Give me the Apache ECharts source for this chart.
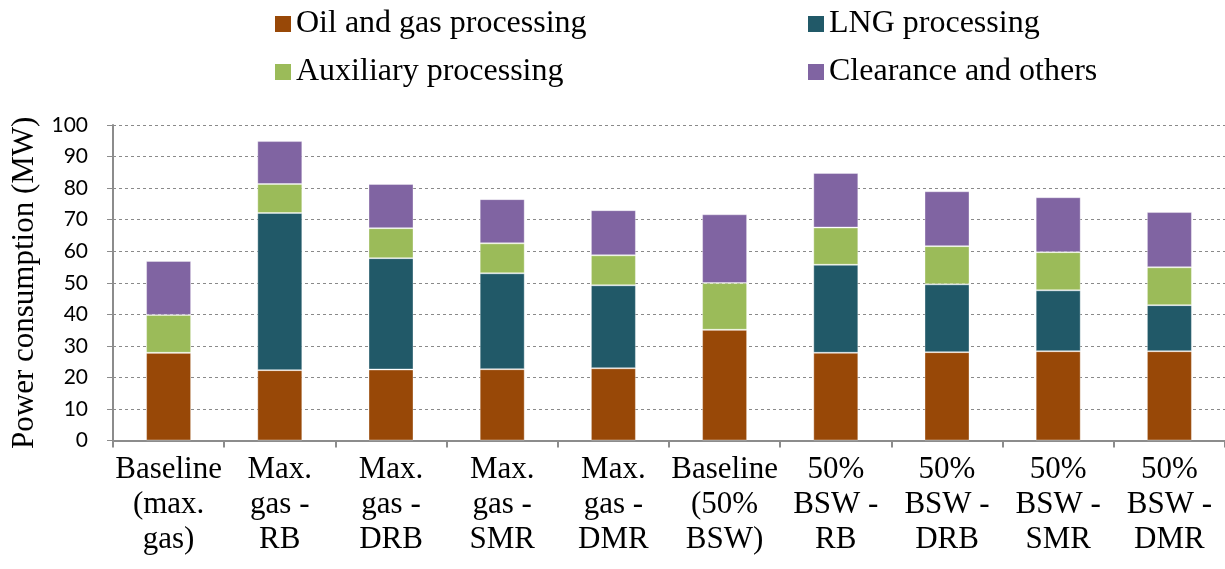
<!DOCTYPE html>
<html>
<head>
<meta charset="utf-8">
<script src="https://cdn.jsdelivr.net/npm/echarts@6/dist/echarts.min.js"></script>
<style>
  html, body { margin: 0; padding: 0; background: #fff; }
  #chart { width: 1225px; height: 569px; }
</style>
</head>
<body>
<div id="chart"></div>
<script>
// Scenario labels along the x axis
const categories = [
  'Baseline\n(max.\ngas)', 'Max.\ngas -\nRB', 'Max.\ngas -\nDRB', 'Max.\ngas -\nSMR', 'Max.\ngas -\nDMR',
  'Baseline\n(50%\nBSW)', '50%\nBSW -\nRB', '50%\nBSW -\nDRB', '50%\nBSW -\nSMR', '50%\nBSW -\nDMR'
];

// Power consumption by block (MW)
const oilGas    = [27.8, 22.3, 22.5, 22.6, 22.9, 35.1, 27.8, 28.0, 28.3, 28.3];
const lng       = [0,    49.8, 35.3, 30.4, 26.3, 0,    27.9, 21.5, 19.3, 14.6];
const auxiliary = [12.0, 9.2,  9.5,  9.5,  9.5,  14.8, 11.8, 12.1, 12.1, 12.0];
const clearance = [17.1, 13.6, 14.0, 14.0, 14.3, 21.8, 17.3, 17.4, 17.4, 17.5];

const seriesNames = ['Oil and gas processing', 'LNG processing', 'Auxiliary processing', 'Clearance and others'];
const seriesColors = ['#984807', '#215968', '#9BBB59', '#8064A2'];
const seriesData = [oilGas, lng, auxiliary, clearance];

const serif = '"Liberation Serif", "Times New Roman", serif';

const chart = echarts.init(document.getElementById('chart'));

const legendText = { fontFamily: serif, fontSize: 32, color: '#000' };

chart.setOption({
  animation: false,
  grid: { left: 113, right: 0, top: 125, bottom: 128.5, containLabel: false },
  legend: [
    {
      data: [seriesNames[0], seriesNames[2]],
      orient: 'vertical', left: 270, top: 3, itemGap: 16,
      itemWidth: 16, itemHeight: 16, itemStyle: { borderWidth: 0 }, icon: 'rect', textStyle: legendText
    },
    {
      data: [seriesNames[1], seriesNames[3]],
      orient: 'vertical', left: 803, top: 3, itemGap: 16,
      itemWidth: 16, itemHeight: 16, itemStyle: { borderWidth: 0 }, icon: 'rect', textStyle: legendText
    }
  ],
  xAxis: {
    type: 'category',
    data: categories,
    axisLine: { lineStyle: { color: '#8c8c8c', width: 2 } },
    axisTick: { show: true, alignWithLabel: false, length: 7, lineStyle: { color: '#8c8c8c', width: 2 } },
    axisLabel: {
      interval: 0, margin: 12, color: '#000',
      fontFamily: serif, fontSize: 31, lineHeight: 35
    }
  },
  yAxis: {
    type: 'value', min: 0, max: 100, interval: 10,
    name: 'Power consumption (MW)',
    nameLocation: 'middle', nameGap: 70, nameRotate: 90,
    nameTextStyle: { fontFamily: serif, fontSize: 31, color: '#000' },
    axisLine: { show: true, lineStyle: { color: '#8c8c8c', width: 2 } },
    axisTick: { show: true, length: 6, lineStyle: { color: '#8c8c8c', width: 1 } },
    axisLabel: { margin: 25, color: '#000', fontFamily: 'Lato, "Open Sans", sans-serif', fontSize: 21 },
    splitLine: { show: true, lineStyle: { color: '#8a8a8a', type: [3, 3], width: 1 } }
  },
  series: seriesData.map((d, i) => ({
    name: seriesNames[i],
    type: 'bar',
    stack: 'total',
    data: d,
    barWidth: 45,
    itemStyle: { color: seriesColors[i], borderColor: 'rgba(255,255,255,0.35)', borderWidth: 1 }
  }))
});
</script>
</body>
</html>
